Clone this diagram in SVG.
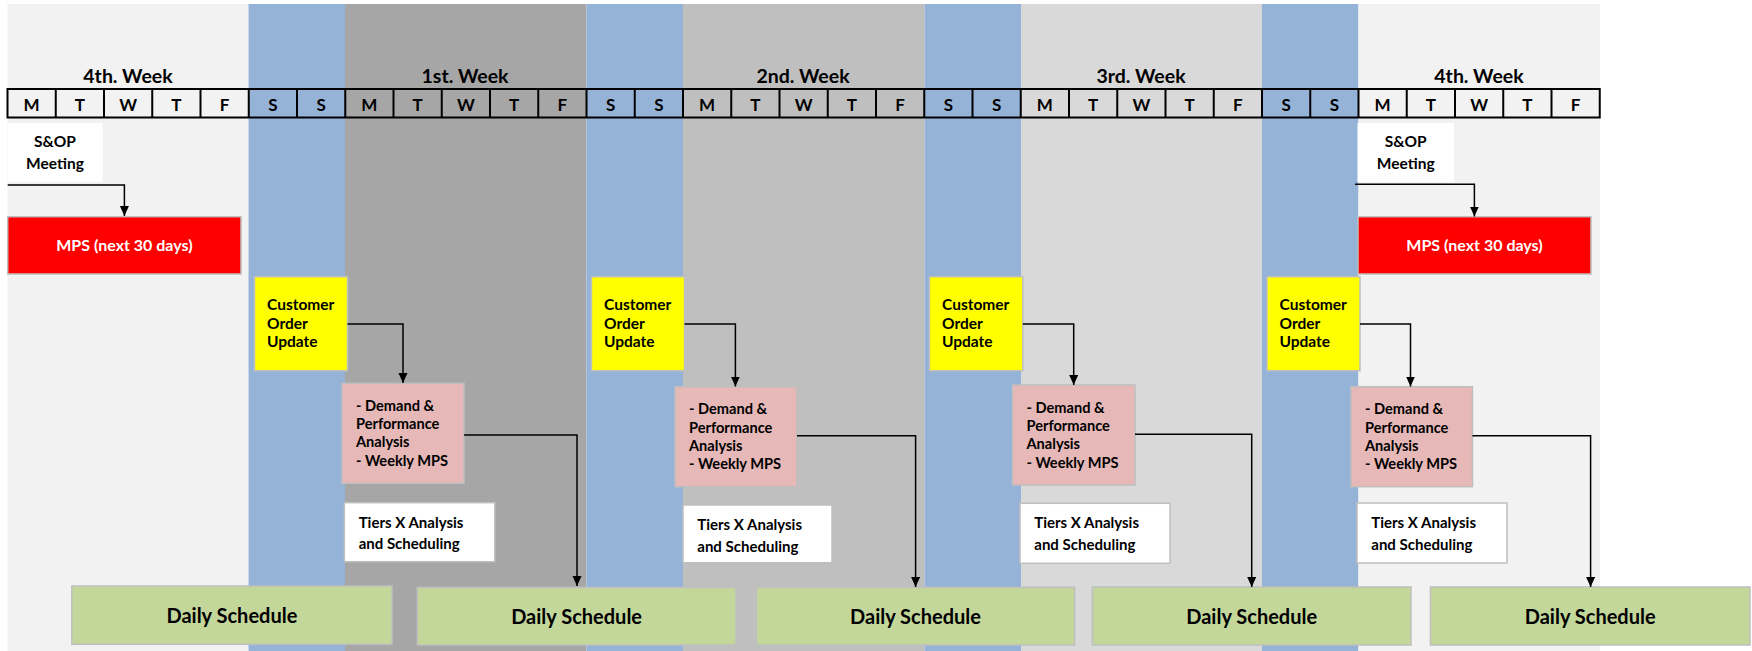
<svg xmlns="http://www.w3.org/2000/svg" width="1752" height="651" viewBox="0 0 1752 651">
<defs>
<style>
text{font-family:Lato,"Liberation Sans",Arial,sans-serif;font-weight:bold;fill:#000}
.wk{font-size:19.5px;text-anchor:middle}
.day{font-size:17px;text-anchor:middle}
.cell{fill:none;stroke:#000;stroke-width:2}
.box{stroke:#BFBFBF;stroke-width:1.5}
.yel{fill:#FFFF00}
.pink{fill:#E6B8B7}
.wht{fill:#FFFFFF}
.grn{fill:#C4D79B}
.red{fill:#FF0000}
.sop{font-size:15.5px;text-anchor:middle}
.cu{font-size:15.5px}
.pk{font-size:14.6px}
.ti{font-size:15px}
.mps{font-size:16px;fill:#FFFFFF;text-anchor:middle}
.ds{font-size:20px;text-anchor:middle}
.conn{fill:none;stroke:#000;stroke-width:1.5}
</style>
<marker id="arr" markerUnits="userSpaceOnUse" markerWidth="11" markerHeight="10" refX="10" refY="4.5" orient="auto">
<path d="M0,0 L10,4.5 L0,9 z" fill="#000"/>
</marker>
</defs>

<g id="background">
<rect x="7.5" y="4" width="241" height="647" fill="#F2F2F2"/>
<rect x="248.5" y="4" width="96.5" height="647" fill="#95B3D7"/>
<rect x="345" y="4" width="241.5" height="647" fill="#A6A6A6"/>
<rect x="586.5" y="4" width="96.5" height="647" fill="#95B3D7"/>
<rect x="683" y="4" width="241.5" height="647" fill="#BFBFBF"/>
<rect x="924.5" y="4" width="96.5" height="647" fill="#95B3D7"/>
<rect x="1021" y="4" width="241" height="647" fill="#D9D9D9"/>
<rect x="1262" y="4" width="96.5" height="647" fill="#95B3D7"/>
<rect x="1358.5" y="4" width="241.5" height="647" fill="#F2F2F2"/>
</g>

<g id="week-labels">
<text class="wk" x="128" y="83">4th. Week</text>
<text class="wk" x="465" y="83">1st. Week</text>
<text class="wk" x="803" y="83">2nd. Week</text>
<text class="wk" x="1141" y="83">3rd. Week</text>
<text class="wk" x="1479" y="83">4th. Week</text>
</g>

<g id="day-row">
<rect class="cell" x="7.5" y="89" width="1592.25" height="28.5"/>
<path class="cell" d="M55.75,89V117.5M104,89V117.5M152.25,89V117.5M200.5,89V117.5M248.75,89V117.5M297,89V117.5M345.25,89V117.5M393.5,89V117.5M441.75,89V117.5M490,89V117.5M538.25,89V117.5M586.5,89V117.5M634.75,89V117.5M683,89V117.5M731.25,89V117.5M779.5,89V117.5M827.75,89V117.5M876,89V117.5M924.25,89V117.5M972.5,89V117.5M1020.75,89V117.5M1069,89V117.5M1117.25,89V117.5M1165.5,89V117.5M1213.75,89V117.5M1262,89V117.5M1310.25,89V117.5M1358.5,89V117.5M1406.75,89V117.5M1455,89V117.5M1503.25,89V117.5M1551.5,89V117.5"/>
<text class="day" x="31.6" y="111">M</text>
<text class="day" x="79.9" y="111">T</text>
<text class="day" x="128.1" y="111">W</text>
<text class="day" x="176.4" y="111">T</text>
<text class="day" x="224.6" y="111">F</text>
<text class="day" x="272.9" y="111">S</text>
<text class="day" x="321.1" y="111">S</text>
<text class="day" x="369.4" y="111">M</text>
<text class="day" x="417.6" y="111">T</text>
<text class="day" x="465.9" y="111">W</text>
<text class="day" x="514.1" y="111">T</text>
<text class="day" x="562.4" y="111">F</text>
<text class="day" x="610.6" y="111">S</text>
<text class="day" x="658.9" y="111">S</text>
<text class="day" x="707.1" y="111">M</text>
<text class="day" x="755.4" y="111">T</text>
<text class="day" x="803.6" y="111">W</text>
<text class="day" x="851.9" y="111">T</text>
<text class="day" x="900.1" y="111">F</text>
<text class="day" x="948.4" y="111">S</text>
<text class="day" x="996.6" y="111">S</text>
<text class="day" x="1044.9" y="111">M</text>
<text class="day" x="1093.1" y="111">T</text>
<text class="day" x="1141.4" y="111">W</text>
<text class="day" x="1189.6" y="111">T</text>
<text class="day" x="1237.9" y="111">F</text>
<text class="day" x="1286.1" y="111">S</text>
<text class="day" x="1334.4" y="111">S</text>
<text class="day" x="1382.6" y="111">M</text>
<text class="day" x="1430.9" y="111">T</text>
<text class="day" x="1479.1" y="111">W</text>
<text class="day" x="1527.4" y="111">T</text>
<text class="day" x="1575.6" y="111">F</text>
</g>

<g id="sop1">
<rect class="wht" x="7.7" y="123" width="95" height="59"/>
<text class="sop" x="55" y="147">S&amp;OP</text>
<text class="sop" x="55" y="168.5">Meeting</text>
</g>
<g id="sop2">
<rect class="wht" x="1357.5" y="123" width="96.5" height="59"/>
<text class="sop" x="1405.7" y="147">S&amp;OP</text>
<text class="sop" x="1405.7" y="168.5">Meeting</text>
</g>

<g id="mps1">
<rect class="red box" x="7.7" y="216.7" width="233.3" height="57.3"/>
<text class="mps" x="124.4" y="251">MPS (next 30 days)</text>
</g>
<g id="mps2">
<rect class="red box" x="1358" y="216.7" width="233" height="57.3"/>
<text class="mps" x="1474.5" y="251">MPS (next 30 days)</text>
</g>

<g id="cou1">
<rect class="yel box" x="254.5" y="276.7" width="93" height="94"/>
<text class="cu" x="267" y="310">Customer</text>
<text class="cu" x="267" y="328.5">Order</text>
<text class="cu" x="267" y="347">Update</text>
</g>
<g id="cou2">
<rect class="yel box" x="591.5" y="276.7" width="93" height="94"/>
<text class="cu" x="604" y="310">Customer</text>
<text class="cu" x="604" y="328.5">Order</text>
<text class="cu" x="604" y="347">Update</text>
</g>
<g id="cou3">
<rect class="yel box" x="929.4" y="276.7" width="93.4" height="94"/>
<text class="cu" x="942" y="310">Customer</text>
<text class="cu" x="942" y="328.5">Order</text>
<text class="cu" x="942" y="347">Update</text>
</g>
<g id="cou4">
<rect class="yel box" x="1267" y="276.7" width="93" height="94"/>
<text class="cu" x="1279.5" y="310">Customer</text>
<text class="cu" x="1279.5" y="328.5">Order</text>
<text class="cu" x="1279.5" y="347">Update</text>
</g>

<g id="dpa1">
<rect class="pink box" x="342" y="383.3" width="122" height="100"/>
<text class="pk" x="356" y="410.8">- Demand &amp;</text>
<text class="pk" x="356" y="429.3">Performance</text>
<text class="pk" x="356" y="447.3">Analysis</text>
<text class="pk" x="356" y="465.8">- Weekly MPS</text>
</g>
<g id="dpa2">
<rect class="pink box" x="675" y="386.7" width="122" height="100"/>
<text class="pk" x="689" y="414.2">- Demand &amp;</text>
<text class="pk" x="689" y="432.7">Performance</text>
<text class="pk" x="689" y="450.7">Analysis</text>
<text class="pk" x="689" y="469.2">- Weekly MPS</text>
</g>
<g id="dpa3">
<rect class="pink box" x="1012.5" y="385" width="122.5" height="100"/>
<text class="pk" x="1026.5" y="412.5">- Demand &amp;</text>
<text class="pk" x="1026.5" y="431">Performance</text>
<text class="pk" x="1026.5" y="449">Analysis</text>
<text class="pk" x="1026.5" y="467.5">- Weekly MPS</text>
</g>
<g id="dpa4">
<rect class="pink box" x="1351" y="386.7" width="121.5" height="100"/>
<text class="pk" x="1365" y="414.2">- Demand &amp;</text>
<text class="pk" x="1365" y="432.7">Performance</text>
<text class="pk" x="1365" y="450.7">Analysis</text>
<text class="pk" x="1365" y="469.2">- Weekly MPS</text>
</g>

<g id="tiers1">
<rect class="wht box" x="344.4" y="502.7" width="150.4" height="59"/>
<text class="ti" x="358.7" y="527.7">Tiers X Analysis</text>
<text class="ti" x="358.7" y="549.3">and Scheduling</text>
</g>
<g id="tiers2">
<rect class="wht box" x="683" y="505" width="149" height="57.7"/>
<text class="ti" x="697.3" y="530">Tiers X Analysis</text>
<text class="ti" x="697.3" y="551.6">and Scheduling</text>
</g>
<g id="tiers3">
<rect class="wht box" x="1020" y="503.3" width="150" height="60"/>
<text class="ti" x="1034.3" y="528.3">Tiers X Analysis</text>
<text class="ti" x="1034.3" y="549.9">and Scheduling</text>
</g>
<g id="tiers4">
<rect class="wht box" x="1357" y="503" width="150" height="60"/>
<text class="ti" x="1371.3" y="528">Tiers X Analysis</text>
<text class="ti" x="1371.3" y="549.6">and Scheduling</text>
</g>

<g id="ds1">
<rect class="grn box" x="71.8" y="586" width="320.2" height="58.3"/>
<text class="ds" x="231.9" y="623">Daily Schedule</text>
</g>
<g id="ds2">
<rect class="grn box" x="417.3" y="587.5" width="318.7" height="57.5"/>
<text class="ds" x="576.6" y="623.5">Daily Schedule</text>
</g>
<g id="ds3">
<rect class="grn box" x="756.5" y="587.3" width="318.1" height="57.7"/>
<text class="ds" x="915.5" y="623.5">Daily Schedule</text>
</g>
<g id="ds4">
<rect class="grn box" x="1092.4" y="587" width="318.6" height="58"/>
<text class="ds" x="1251.7" y="623.5">Daily Schedule</text>
</g>
<g id="ds5">
<rect class="grn box" x="1430.5" y="587" width="319.5" height="58"/>
<text class="ds" x="1590.2" y="623.5">Daily Schedule</text>
</g>

<g id="connectors">
<polyline class="conn" points="7.7,185 124.4,185 124.4,216" marker-end="url(#arr)"/>
<polyline class="conn" points="1355,184.3 1474.4,184.3 1474.4,216.5" marker-end="url(#arr)"/>
<polyline class="conn" points="347.5,324 403,324 403,383" marker-end="url(#arr)"/>
<polyline class="conn" points="684.5,324 735.4,324 735.4,386.5" marker-end="url(#arr)"/>
<polyline class="conn" points="1022.8,324 1073.7,324 1073.7,385" marker-end="url(#arr)"/>
<polyline class="conn" points="1360,324 1410.5,324 1410.5,386.5" marker-end="url(#arr)"/>
<polyline class="conn" points="464,435 577,435 577,586" marker-end="url(#arr)"/>
<polyline class="conn" points="797,435.7 915.6,435.7 915.6,587" marker-end="url(#arr)"/>
<polyline class="conn" points="1135,434.3 1251.7,434.3 1251.7,587" marker-end="url(#arr)"/>
<polyline class="conn" points="1472.5,435.7 1590.6,435.7 1590.6,587" marker-end="url(#arr)"/>
</g>
</svg>
